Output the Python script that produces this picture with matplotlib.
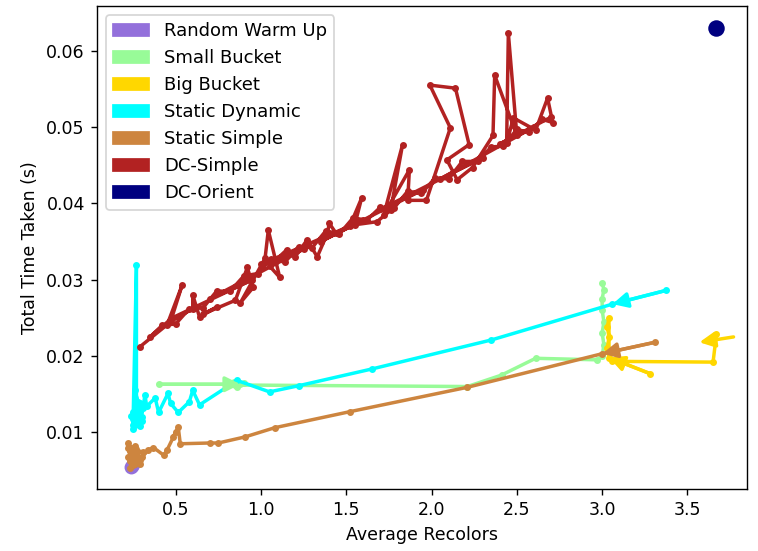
import matplotlib
matplotlib.use('Agg')
import matplotlib.pyplot as plt
import matplotlib.patches as mpatches

# series names and colours
names = ['Random Warm Up', 'Small Bucket', 'Big Bucket', 'Static Dynamic',
         'Static Simple', 'DC-Simple', 'DC-Orient']
colors = ['mediumpurple', 'palegreen', 'gold', 'cyan', 'peru', 'firebrick', 'navy']

# average recolors / total time per run
rwu_x = [0.24, 0.245, 0.25]
rwu_y = [0.0055, 0.0056, 0.0058]

sb_x = [0.40, 0.88, 0.84, 0.86, 0.90, 0.85, 2.21, 2.41, 2.61, 2.97, 3.00, 3.01,
        3.00, 3.01, 3.00, 3.00, 3.01, 3.00]
sb_y = [0.0163, 0.0163, 0.0166, 0.0160, 0.0165, 0.0162, 0.0160, 0.0175, 0.0197,
        0.0195, 0.0200, 0.0215, 0.0230, 0.0245, 0.0260, 0.0275, 0.0287, 0.0296]

bb_x = [3.28, 3.04, 3.03, 3.04, 3.03, 3.04, 3.04, 3.06, 3.65, 3.67]
bb_y = [0.0177, 0.0198, 0.0210, 0.0225, 0.0238, 0.0250, 0.0205, 0.0193, 0.0192, 0.0229]

sd_x = [3.375, 3.06, 2.35, 1.65, 1.22, 1.05, 0.86, 0.64, 0.60, 0.58, 0.515, 0.47,
        0.455, 0.40, 0.38, 0.33, 0.32, 0.30, 0.28, 0.26, 0.29, 0.25, 0.28, 0.26,
        0.27, 0.25, 0.27, 0.27, 0.26, 0.28, 0.25, 0.30, 0.27, 0.24, 0.29, 0.26,
        0.31, 0.25, 0.28]
sd_y = [0.0286, 0.0268, 0.0221, 0.0183, 0.0161, 0.0153, 0.0168, 0.0136, 0.0155,
        0.0140, 0.0126, 0.0138, 0.0151, 0.0126, 0.0145, 0.0134, 0.0149, 0.0120,
        0.0112, 0.0130, 0.0108, 0.0118, 0.0140, 0.0155, 0.0135, 0.0110, 0.0319,
        0.0125, 0.0112, 0.0120, 0.0105, 0.0115, 0.0128, 0.0122, 0.0138, 0.0109,
        0.0132, 0.0127, 0.0113]

ss_x = [3.31, 3.00, 2.21, 1.52, 1.08, 0.907, 0.75, 0.70, 0.527, 0.515, 0.486, 0.50,
        0.45, 0.43, 0.37, 0.34, 0.29, 0.22, 0.25, 0.23, 0.27, 0.24, 0.30, 0.26,
        0.23, 0.28, 0.25, 0.22, 0.31, 0.24, 0.27, 0.23, 0.29, 0.26, 0.22, 0.25,
        0.28, 0.24]
ss_y = [0.0218, 0.0203, 0.0159, 0.0127, 0.0106, 0.0094, 0.0086, 0.0086, 0.0085,
        0.0107, 0.0094, 0.0100, 0.0077, 0.0070, 0.0080, 0.0077, 0.0064, 0.0086,
        0.0060, 0.0053, 0.0072, 0.0066, 0.0068, 0.0058, 0.0075, 0.0062, 0.0057,
        0.0080, 0.0074, 0.0070, 0.0078, 0.0063, 0.0059, 0.0082, 0.0067, 0.0073,
        0.0060, 0.0079]

dcs_x = [0.29, 0.45, 0.538, 0.47, 0.60, 0.60, 0.64, 0.74, 0.66, 0.85, 0.92, 0.955,
         0.88, 1.024, 1.043, 1.11, 1.05, 1.15, 1.20, 1.27, 1.33, 1.39, 1.40, 1.44,
         1.52, 1.59, 1.55, 1.68, 1.76, 1.83, 1.72, 1.87, 1.86, 1.97, 2.11, 1.99,
         2.14, 2.22, 2.09, 2.15, 2.24, 2.36, 2.37, 2.50, 2.45, 2.44, 2.48, 2.61,
         2.68, 2.71,
         2.65, 2.57, 2.50, 2.42, 2.35, 2.27, 2.18, 2.10, 2.02, 1.94, 1.86, 1.78,
         1.70, 1.62, 1.54, 1.46, 1.38, 1.30, 1.22, 1.14, 1.06, 0.98, 0.90, 0.82,
         0.74, 0.66, 0.58, 0.50, 0.42, 0.35,
         0.48, 0.95, 0.70, 1.25, 1.00, 1.60, 1.35, 1.95, 1.70, 2.30, 2.05, 2.60,
         2.40, 2.70]
dcs_y = [0.0212, 0.0241, 0.0293, 0.0245, 0.0262, 0.0280, 0.0251, 0.0264, 0.0255,
         0.0273, 0.0316, 0.0290, 0.0270, 0.0328, 0.0365, 0.0303, 0.0318, 0.0339,
         0.0330, 0.0352, 0.0330, 0.0361, 0.0374, 0.0361, 0.0370, 0.0407, 0.0372,
         0.0376, 0.0391, 0.0477, 0.0385, 0.0444, 0.0404, 0.0404, 0.0499, 0.0555,
         0.0551, 0.0477, 0.0457, 0.0431, 0.0447, 0.0489, 0.0568, 0.0489, 0.0623,
         0.0479, 0.0512, 0.0496, 0.0538, 0.0506,
         0.0510, 0.0493, 0.0497, 0.0475, 0.0474, 0.0455, 0.0455, 0.0432, 0.0433,
         0.0413, 0.0416, 0.0394, 0.0395, 0.0378, 0.0381, 0.0360, 0.0364, 0.0342,
         0.0343, 0.0323, 0.0327, 0.0308, 0.0305, 0.0285, 0.0285, 0.0263, 0.0262,
         0.0242, 0.0240, 0.0225,
         0.0250, 0.0300, 0.0275, 0.0340, 0.0320, 0.0378, 0.0350, 0.0418, 0.0392,
         0.0460, 0.0432, 0.0500, 0.0478, 0.0513]

dco_x = [3.67]
dco_y = [0.0630]

# extra direction arrow on the big bucket run (tail, head)
bb_arrow = [(3.77, 0.0225), (3.57, 0.0218)]

fig = plt.figure(figsize=(758/125, 551/125), dpi=125)
ax = fig.add_axes([0.128, 0.1125, 0.8575, 0.8765])

ax.plot(rwu_x, rwu_y, 'o', color=colors[0], ms=7)
series = [(sb_x, sb_y, colors[1]), (bb_x, bb_y, colors[2]),
          (sd_x, sd_y, colors[3]), (ss_x, ss_y, colors[4])]
for xs, ys, c in series:
    ax.plot(xs, ys, '-o', color=c, lw=2, ms=3)
    # arrow on the first step shows the direction of the run
    ax.annotate('', xy=(xs[1], ys[1]), xytext=(xs[0], ys[0]),
                arrowprops=dict(arrowstyle='-|>', color=c, lw=2,
                                mutation_scale=18, shrinkA=0, shrinkB=0))
ax.annotate('', xy=bb_arrow[1], xytext=bb_arrow[0],
            arrowprops=dict(arrowstyle='-|>', color=colors[2], lw=2,
                            mutation_scale=18, shrinkA=0, shrinkB=0))
ax.plot(dcs_x, dcs_y, '-o', color=colors[5], lw=2, ms=3)
ax.plot(dco_x, dco_y, 'o', color=colors[6], ms=8.5)

ax.set_xlim(0.039, 3.849)
ax.set_ylim(0.00257, 0.06586)
ax.set_xlabel('Average Recolors')
ax.set_ylabel('Total Time Taken (s)')

handles = [mpatches.Patch(color=c, label=n) for n, c in zip(names, colors)]
ax.legend(handles=handles, loc='upper left', fontsize=10.4)

plt.savefig('out.png', dpi=125)
